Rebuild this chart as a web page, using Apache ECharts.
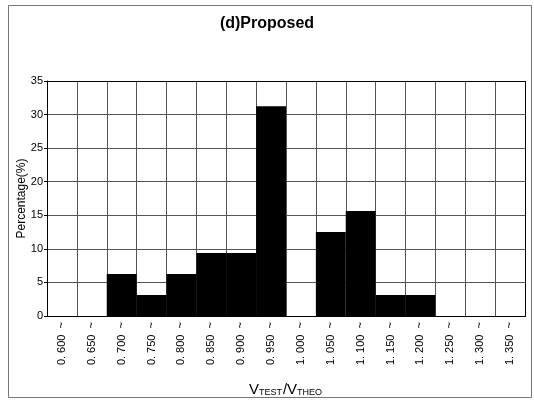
<!DOCTYPE html>
<html>
<head>
<meta charset="utf-8">
<script src="https://cdn.jsdelivr.net/npm/echarts@6/dist/echarts.min.js"></script>
<style>
  html, body { margin: 0; padding: 0; background: #fff; }
  #chart { width: 534px; height: 407px; }
</style>
</head>
<body>
<div id="chart"></div>
<script>
// ratio bins (lower bound of each bin)
const bins = ['0.600', '0.650', '0.700', '0.750', '0.800', '0.850', '0.900', '0.950',
  '1.000', '1.050', '1.100', '1.150', '1.200', '1.250', '1.300', '1.350'];
// percentage of specimens in each bin
const percentages = [0, 0, 6.25, 3.125, 6.25, 9.375, 9.375, 31.25,
  0, 12.5, 15.625, 3.125, 3.125, 0, 0, 0];
const yTicks = { min: 0, max: 35, step: 5 };

const chart = echarts.init(document.getElementById('chart'));

const gridLine = { show: true, lineStyle: { color: '#555', width: 1 } };

chart.setOption({
  animation: false,
  backgroundColor: '#fff',
  textStyle: { fontFamily: 'Liberation Sans' },
  title: {
    text: '(d)Proposed',
    left: 'center',
    top: 11,
    textStyle: { fontSize: 16, fontWeight: 'bold', color: '#000', fontFamily: 'Liberation Sans' }
  },
  grid: { left: 47, right: 9, top: 81, bottom: 91 },
  xAxis: {
    type: 'category',
    data: bins,
    name: '{v|V}{s|TEST}{v|/}{v|V}{s|THEO}',
    nameLocation: 'middle',
    nameGap: 66,
    nameTextStyle: {
      rich: {
        v: { fontSize: 15, color: '#000', fontFamily: 'Liberation Sans' },
        s: { fontSize: 9, color: '#000', fontFamily: 'Liberation Sans', verticalAlign: 'bottom', padding: [4, 1, 0, 0] }
      }
    },
    axisLine: { show: true, lineStyle: { color: '#000', width: 1 } },
    axisTick: { show: false },
    axisLabel: {
      rotate: 90,
      interval: 0,
      margin: 6,
      fontSize: 11,
      color: '#000',
      formatter: v => v.replace('.', '. ') + '  ~'
    },
    splitLine: gridLine
  },
  yAxis: {
    type: 'value',
    min: yTicks.min,
    max: yTicks.max,
    interval: yTicks.step,
    name: 'Percentage(%)',
    nameLocation: 'middle',
    nameGap: 19,
    nameMoveOverlap: false,
    nameTextStyle: { fontSize: 12, color: '#000' },
    axisLine: { show: true, lineStyle: { color: '#000', width: 1 } },
    axisTick: { show: true, length: 3, lineStyle: { color: '#000' } },
    axisLabel: { fontSize: 11, color: '#000', margin: 4 },
    splitLine: gridLine
  },
  graphic: [{
    type: 'rect',
    shape: { x: 8.5, y: 5.5, width: 523, height: 392 },
    style: { fill: 'none', stroke: '#777', lineWidth: 1 },
    silent: true
  }, {
    type: 'rect',
    shape: { x: 47.5, y: 81.5, width: 478, height: 235 },
    style: { fill: 'none', stroke: '#000', lineWidth: 1 },
    silent: true,
    z: 100
  }],
  series: [{
    type: 'bar',
    data: percentages,
    barCategoryGap: 0,
    barGap: 0,
    itemStyle: { color: '#000' }
  }]
});
</script>
</body>
</html>
